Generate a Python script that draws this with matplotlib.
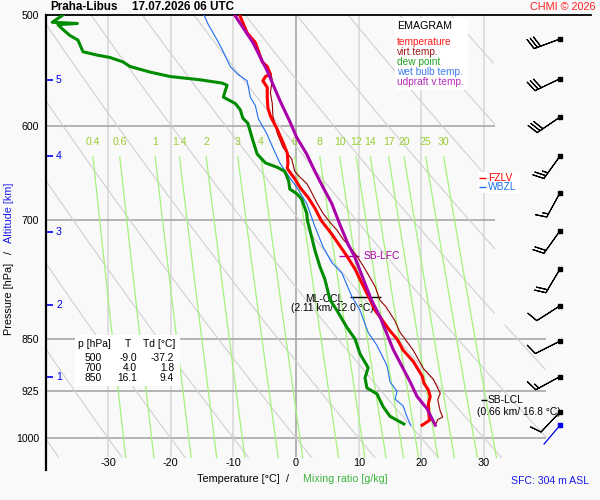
import numpy as np
import matplotlib.pyplot as plt
from matplotlib.patches import Rectangle
from matplotlib.ticker import NullLocator, NullFormatter

plt.rcParams['font.family'] = ['Liberation Sans', 'DejaVu Sans']

# --- sounding data ---
temp_p = [500, 515, 523, 540, 544, 551, 553, 557, 563, 572, 582, 590, 603, 616, 627, 637, 643,
          654, 663, 674, 686, 700, 716, 730, 742, 758, 771, 797, 811, 820, 838, 850, 866, 882,
          903, 914, 924, 934, 945, 963, 971, 979]
temp_t = [-9.0, -7.8, -6.5, -5.4, -4.6, -4.1, -4.9, -5.3, -4.6, -4.6, -4.5, -4.1, -3.0, -2.1,
          -1.4, -1.3, -1.4, -0.2, 0.6, 1.9, 3.0, 4.0, 5.7, 7.0, 8.1, 9.4, 10.2, 11.8, 12.6, 13.4,
          14.9, 16.1, 17.1, 18.7, 20.1, 20.4, 21.1, 21.4, 21.1, 21.2, 21.3, 20.1]

virt_p = [500, 515, 540, 551, 556, 568, 578, 590, 607, 621, 633, 646, 652, 659, 665, 680, 692,
          702, 711, 722, 731, 742, 758, 780, 798, 806, 824, 841, 866, 892, 908, 929, 939, 957,
          966, 970, 979]
virt_t = [-9.1, -7.7, -5.3, -4.0, -3.8, -4.1, -3.8, -3.7, -3.0, -2.1, -0.7, -0.2, 0.6, 1.7, 2.2,
          3.3, 4.3, 5.4, 6.5, 7.5, 8.6, 9.7, 11.0, 12.6, 13.4, 14.3, 15.7, 16.6, 18.7, 20.3, 21.9,
          23.0, 22.6, 23.0, 23.4, 22.6, 22.2]

dew_p = [500, 506, 507, 508, 510, 512, 517, 521, 531, 534, 536, 540, 544, 549, 553, 556, 559,
         561, 566, 572, 578, 584, 592, 597, 614, 628, 637, 642, 646, 656, 665, 670, 676, 692,
         700, 711, 735, 755, 771, 797, 811, 834, 850, 871, 891, 906, 921, 930, 940, 950, 965, 977]
dew_t = [-37.2, -38.9, -34.9, -38.0, -37.6, -37.2, -36.1, -34.8, -34.0, -31.7, -29.7, -27.6,
         -26.5, -23.3, -20.1, -15.3, -11.8, -11.0, -11.3, -11.6, -9.7, -8.9, -8.5, -7.7, -6.9,
         -6.2, -4.9, -2.9, -1.8, -1.2, -1.0, 0.1, 0.9, 1.7, 1.8, 2.2, 3.0, 3.8, 4.6, 5.4, 6.5,
         8.1, 9.4, 10.2, 11.5, 11.0, 11.3, 12.9, 13.4, 13.9, 15.0, 17.2]

wet_p = [500, 508, 518, 529, 544, 551, 557, 572, 580, 593, 607, 620, 637, 650, 663, 681, 707,
         731, 750, 763, 793, 811, 841, 859, 888, 912, 926, 938, 949, 966, 979]
wet_t = [-14.7, -14.0, -12.9, -11.8, -10.5, -9.3, -7.8, -7.3, -6.5, -6.0, -4.7, -3.8, -2.6,
         -1.3, 0.1, 1.7, 3.0, 4.3, 5.7, 7.3, 8.9, 10.2, 11.5, 12.9, 14.5, 15.0, 16.1, 15.8, 17.1,
         17.7, 18.3]

parcel_p = [500, 523, 548, 575, 594, 611, 628, 646, 663, 681, 705, 728, 742, 764, 797, 820, 865,
            912, 934, 953, 979]
parcel_t = [-9.8, -6.9, -4.6, -2.6, -1.1, 0.1, 1.7, 3.0, 4.3, 5.7, 7.0, 8.3, 9.3, 10.4, 12.0,
            13.4, 15.5, 18.2, 19.3, 20.9, 22.2]

# wind barbs (kt)
wind_p = [520, 555, 591, 630, 669, 712, 758, 805, 853, 904, 958]
wind_u = [28.1, 27.1, 24.8, 14.6, 7.2, 11.6, 10.2, 8.4, 8.9, 13.2, 6.9]
wind_v = [10.5, 13.0, 16.9, 20.3, 13.2, 16.3, 17.2, 5.4, 4.5, 7.2, 7.3]
sfc_p = 979

# chart furniture
isotherms = [-30, -20, -10, 0, 10, 20, 30]
isobars_upper = [600, 700]
isobars_lower = [850, 925, 1000]
pressure_ticks = [500, 600, 700, 850, 925, 1000]
theta_1000 = np.arange(-40, 101, 10)
mixing_ratios = [0.4, 0.6, 1, 1.4, 2, 3, 4, 6, 8, 10, 12, 14, 17, 20, 25, 30]
mixing_labels = ['0.4', '0.6', '1', '1.4', '2', '3', '4', '6', '8', '10', '12', '14', '17',
                 '20', '25', '30']
alt_km = [1, 2, 3, 4, 5]
alt_p = [905, 804, 713, 630, 556]

table_p = [500, 700, 850]
table_t = [-9.0, 4.0, 16.1]
table_td = [-37.2, 1.8, 9.4]

fzlv_p, wbzl_p = 653.5, 663
lfc_p, ccl_p, lcl_p = 742, 794, 940

W, H = 600, 500
bg = '#f9f9f9'
fig = plt.figure(figsize=(6, 5), dpi=100, facecolor=bg)
ax = fig.add_axes([46 / W, 30 / H, 545 / W, 455 / H])
ax.set_facecolor(bg)
ax.set_yscale('log')
ax.set_xlim(-39.9, 47.05)
ax.set_ylim(1053.5, 500)


def ftext(x, y, s, **kw):
    fig.text(x / W, 1 - y / H, s, **kw)


for side in ['right', 'bottom']:
    ax.spines[side].set_visible(False)
ax.spines['left'].set_linewidth(1.6)
ax.spines['top'].set_linewidth(1.3)
ax.set_xticks([])
ax.yaxis.set_minor_locator(NullLocator())
ax.yaxis.set_minor_formatter(NullFormatter())
ax.set_yticks(pressure_ticks)
ax.set_yticklabels([str(p) for p in pressure_ticks])
ax.tick_params(axis='y', length=0, pad=5, labelsize=7.6)

p_bot = 1032
# isotherms
for t in isotherms:
    ax.vlines(t, 500, p_bot, colors='#a0a0a0' if t == 0 else '#d6d6d6', lw=1.1, zorder=1)
# isobars
ax.hlines(isobars_upper, -39.9, 31.7, colors='#a8a8a8', lw=1.2, zorder=1)
ax.hlines(isobars_lower, -39.9, 39.9, colors='#a8a8a8', lw=1.2, zorder=1)

# dry adiabats
pp = np.linspace(500, p_bot, 300)
t_lim = np.where(pp < 830, 31.7, 39.9)
for th in theta_1000:
    tt = (th + 273.15) * (pp / 1000.0) ** 0.286 - 273.15
    tt = np.where(tt <= t_lim, tt, np.nan)
    ax.plot(tt, pp, color='#d0d0d0', lw=0.8, zorder=1)

# mixing ratio lines
pm = np.linspace(630.8, p_bot, 100)
for w, lab in zip(mixing_ratios, mixing_labels):
    lnr = np.log(w * pm / (622.0 + w) / 6.112)
    td = 243.5 * lnr / (17.67 - lnr)
    ax.plot(td, pm, color='#a4f27a', lw=0.9, zorder=2)
    ax.text(td[0], 616, lab, color='#9acd32', fontsize=7.6, ha='center', va='center')

# profiles
ax.plot(virt_t, virt_p, color='#990000', lw=0.8, zorder=4)
ax.plot(wet_t, wet_p, color='#1e6ef0', lw=0.8, zorder=4)
ax.plot(dew_t, dew_p, color='#008c00', lw=2.2, zorder=5)
ax.plot(temp_t, temp_p, color='#ff0000', lw=2.2, zorder=5)
ax.plot(parcel_t, parcel_p, color='#aa00aa', lw=2.2, zorder=6)

# altitude marks
for km, p in zip(alt_km, alt_p):
    ax.hlines(p, -39.7, -38.8, colors='#0000ee', lw=1.2, clip_on=False)
    ax.text(-38.3, p, str(km), color='#0000ee', fontsize=7.6, ha='left', va='center')

# temperature labels
for t in isotherms:
    ax.text(t, 1041, str(t), fontsize=7.8, ha='center', va='center')

# annotations
ax.hlines(lfc_p, 6.9, 10.0, colors='#aa00aa', lw=1)
ax.text(10.7, lfc_p, 'SB-LFC', color='#aa00aa', fontsize=7.4, va='center')
ax.hlines(ccl_p, 8.6, 13.6, colors='black', lw=1)
ax.text(1.4, ccl_p + 2, 'ML-CCL', fontsize=7.4, va='center')
ax.text(5.8, 808, '(2.11 km/ 12.0 °C)', fontsize=7.4, va='center', ha='center')
ax.hlines(lcl_p, 29.5, 30.4, colors='black', lw=1, zorder=7)
ax.text(30.6, lcl_p, 'SB-LCL', fontsize=7.4, va='center', zorder=7)
ax.text(35.6, 958, '(0.66 km/ 16.8 °C)', fontsize=7.4, va='center', ha='center', zorder=7)

ax.add_patch(Rectangle((478 / W, 1 - 193 / H), 42 / W, 21 / H, transform=fig.transFigure,
                       facecolor='white', edgecolor='none', zorder=7, clip_on=False))
ax.hlines(fzlv_p, 29.2, 30.3, colors='#ff0000', lw=1, clip_on=False, zorder=8)
ax.text(30.6, fzlv_p, 'FZLV', color='#ff0000', fontsize=7.4, va='center', zorder=8)
ax.hlines(wbzl_p, 29.2, 30.3, colors='#1e6ef0', lw=1, clip_on=False, zorder=8)
ax.text(30.6, wbzl_p, 'WBZL', color='#1e6ef0', fontsize=7.4, va='center', zorder=8)

# wind barbs
bx = 42.1
ax.barbs([bx] * len(wind_p), wind_p, wind_u, wind_v, length=6.3, lw=0.8, color='black',
         clip_on=False, zorder=8)
ax.plot([bx] * len(wind_p), wind_p, 's', color='black', ms=2.5, clip_on=False, zorder=9)
ax.annotate('', xy=(bx, sfc_p), xytext=(-16, -19), textcoords='offset pixels',
            arrowprops=dict(arrowstyle='-', color='#0000ee', lw=0.9, shrinkA=0, shrinkB=0),
            annotation_clip=False)
ax.plot([bx], [sfc_p], 's', color='#0000ee', ms=2.5, clip_on=False, zorder=9)

# legend box
fig.patches.append(Rectangle((395 / W, 1 - 90 / H), 73 / W, 72 / H, transform=fig.transFigure,
                             facecolor='white', edgecolor='none', zorder=3))
ftext(397, 26, 'EMAGRAM', fontsize=7.7, va='center', zorder=4)
leg = [('temperature', '#ff1a1a'), ('virt.temp.', '#a01818'), ('dew point', '#22a022'),
       ('wet bulb temp.', '#3c7cf0'), ('udpraft v.temp.', '#b42cb4')]
for i, (s, c) in enumerate(leg):
    ftext(397, 42 + 10 * i, s, color=c, fontsize=7.3, va='center', zorder=4)

# table box
fig.patches.append(Rectangle((75 / W, 1 - 386 / H), 105 / W, 51 / H, transform=fig.transFigure,
                             facecolor='white', edgecolor='none', zorder=3))
ftext(78, 344, 'p [hPa]', fontsize=7.4, va='center', zorder=4)
ftext(128, 344, 'T', fontsize=7.4, va='center', ha='center', zorder=4)
ftext(143, 344, 'Td [°C]', fontsize=7.4, va='center', zorder=4)
for i, (p, t, td) in enumerate(zip(table_p, table_t, table_td)):
    y = 358 + 10 * i
    ftext(102, y, str(p), fontsize=7.4, va='center', ha='right', zorder=4)
    ftext(137, y, f'{t:.1f}', fontsize=7.4, va='center', ha='right', zorder=4)
    ftext(174, y, f'{td:.1f}', fontsize=7.4, va='center', ha='right', zorder=4)

# titles and axis labels
ftext(50, 7, 'Praha-Libus', fontsize=8.4, weight='bold', va='center')
ftext(132, 7, '17.07.2026 06 UTC', fontsize=8.4, weight='bold', va='center')
ftext(596, 7, 'CHMI © 2026', fontsize=7.8, color='#ff2020', va='center', ha='right')
ftext(197, 479, 'Temperature [°C]', fontsize=7.8, va='center')
ftext(286, 479, '/', fontsize=7.8, va='center')
ftext(303, 479, 'Mixing ratio [g/kg]', fontsize=7.7, color='#3cb43c', va='center')
ftext(589, 481, 'SFC: 304 m ASL', fontsize=7.6, color='#1a1aee', va='center', ha='right')
ftext(9, 335, 'Pressure [hPa]', fontsize=7.8, rotation=90, ha='center', va='bottom')
ftext(9, 252, '/', fontsize=7.8, rotation=90, ha='center', va='center')
ftext(9, 183, 'Altitude [km]', fontsize=7.8, rotation=90, ha='center', va='top',
      color='#1a1aee')

fig.savefig('out.png', dpi=100, facecolor=bg)
